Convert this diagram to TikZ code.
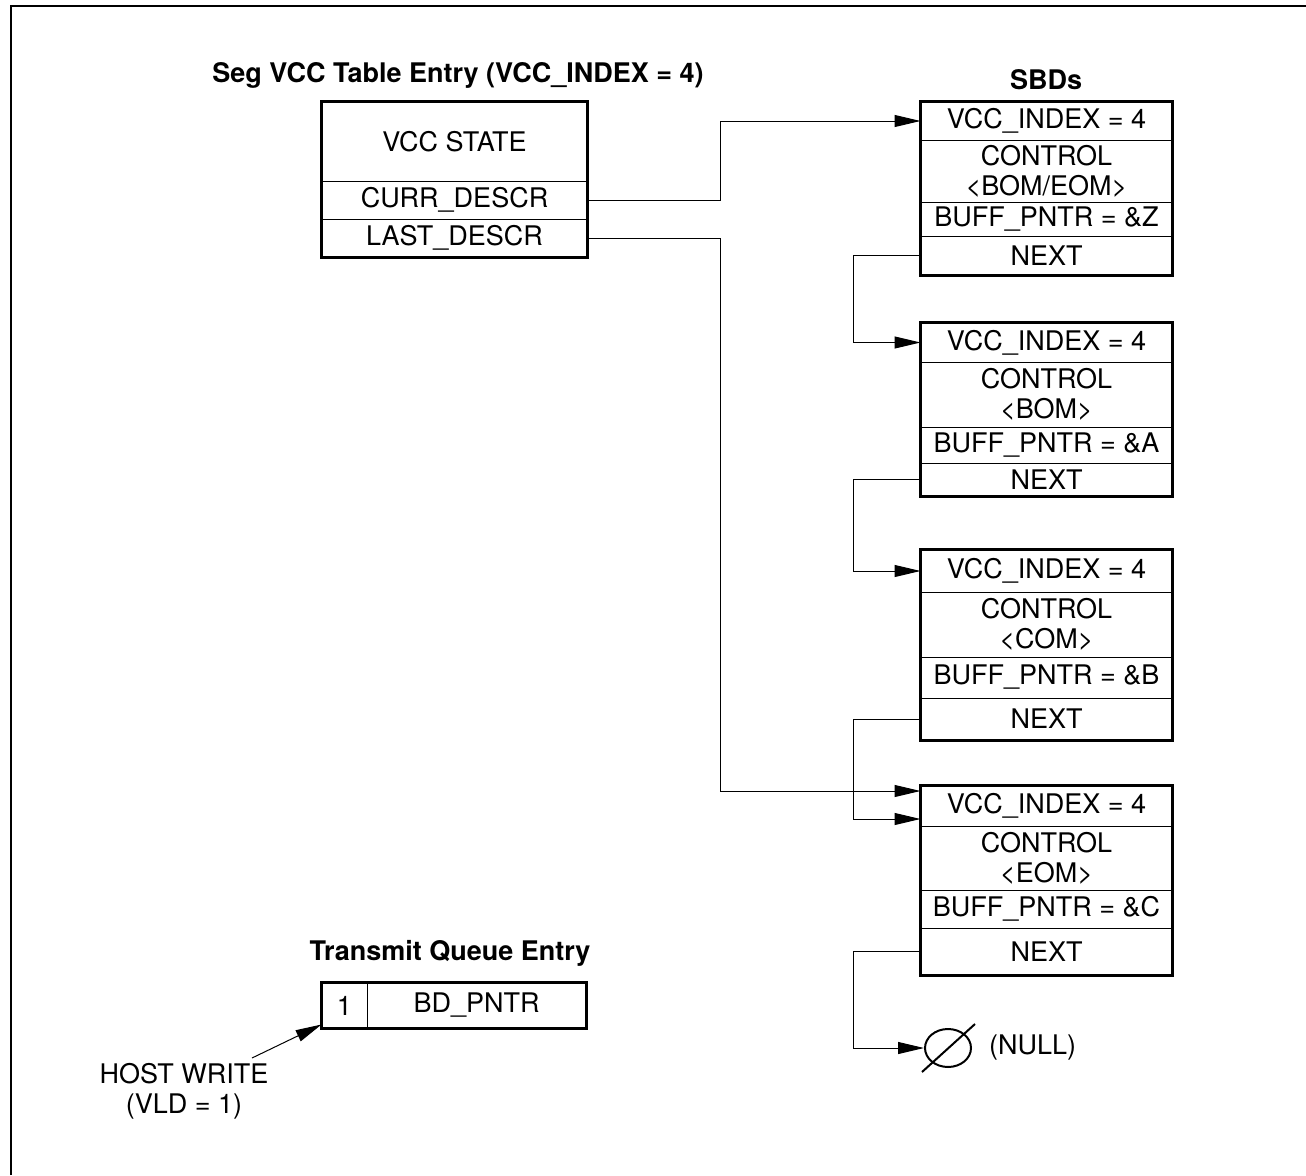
\documentclass[tikz,border=0pt]{standalone}
\usepackage{fontspec}
\setmainfont{TeX Gyre Heros}
\usetikzlibrary{arrows.meta,shapes.geometric,positioning}
\newcommand\figfont{\fontsize{27}{30}\selectfont}

\begin{document}
\begin{tikzpicture}[
  x=1pt, y=-1pt,
  fieldbox/.style={draw, line width=1pt, inner sep=0pt, align=center, font=\figfont},
  sbdfield/.style={fieldbox, minimum width=251pt},
  segfield/.style={fieldbox, minimum width=265pt},
  heading/.style={inner sep=0pt, font=\figfont\bfseries},
  txt/.style={inner sep=0pt, align=center, font=\figfont},
  boxedge/.style={line width=2.4pt},
  link/.style={line width=1pt},
  >={Triangle[length=26pt,width=12pt]},
  ]
  \useasboundingbox (0,0) rectangle (1306,1175);
  % Frame
  \draw[line width=1.5pt] (11,1175) -- (11,6) -- (1306,6);

  % Seg VCC table entry
  \node[heading] (segtitle) at (458,75) {Seg VCC Table Entry (VCC\_INDEX = 4)};
  \node[segfield, minimum height=79pt] (state) at (454.5,141.5) {VCC STATE};
  \node[segfield, minimum height=38pt] (curr)  at (454.5,200) {CURR\_DESCR};
  \node[segfield, minimum height=38pt] (last)  at (454.5,238) {LAST\_DESCR};
  \draw[boxedge] (state.north west) rectangle (last.south east);

  % SBDs
  \node[heading] (sbdtitle) at (1046,80) {SBDs};
  % SBD 1
  \node[sbdfield, minimum height=38pt] (idxA) at (1046.5,121)   {VCC\_INDEX = 4};
  \node[sbdfield, minimum height=62pt] (ctlA) at (1046.5,171)   {CONTROL\\<BOM/EOM>};
  \node[sbdfield, minimum height=34pt] (bufA) at (1046.5,219)   {BUFF\_PNTR = \&Z};
  \node[sbdfield, minimum height=39pt] (nxtA) at (1046.5,255.5) {NEXT};
  \draw[boxedge] (idxA.north west) rectangle (nxtA.south east);
  % SBD 2
  \node[sbdfield, minimum height=39pt] (idxB) at (1046.5,342.5) {VCC\_INDEX = 4};
  \node[sbdfield, minimum height=65pt] (ctlB) at (1046.5,394.5) {CONTROL\\<BOM>};
  \node[sbdfield, minimum height=36pt] (bufB) at (1046.5,445)   {BUFF\_PNTR = \&A};
  \node[sbdfield, minimum height=33pt] (nxtB) at (1046.5,479.5) {NEXT};
  \draw[boxedge] (idxB.north west) rectangle (nxtB.south east);
  % SBD 3
  \node[sbdfield, minimum height=42pt] (idxC) at (1046.5,571)   {VCC\_INDEX = 4};
  \node[sbdfield, minimum height=65pt] (ctlC) at (1046.5,624.5) {CONTROL\\<COM>};
  \node[sbdfield, minimum height=41pt] (bufC) at (1046.5,677.5) {BUFF\_PNTR = \&B};
  \node[sbdfield, minimum height=42pt] (nxtC) at (1046.5,719)   {NEXT};
  \draw[boxedge] (idxC.north west) rectangle (nxtC.south east);
  % SBD 4
  \node[sbdfield, minimum height=40pt] (idxD) at (1046.5,806)   {VCC\_INDEX = 4};
  \node[sbdfield, minimum height=64pt] (ctlD) at (1046.5,858)   {CONTROL\\<EOM>};
  \node[sbdfield, minimum height=38pt] (bufD) at (1046.5,909)   {BUFF\_PNTR = \&C};
  \node[sbdfield, minimum height=47pt] (nxtD) at (1046.5,951.5) {NEXT};
  \draw[boxedge] (idxD.north west) rectangle (nxtD.south east);

  % Null pointer
  \node[draw, ellipse, line width=2pt, minimum width=46pt, minimum height=38pt,
        inner sep=0pt] (null) at (948,1048) {};
  \draw[line width=2pt] ([shift={(-26,24)}]null.center) -- ([shift={(27,-24)}]null.center);
  \node[txt, right=17pt of null] (nulltext) {(NULL)};

  % Transmit queue entry
  \node[heading] (tqtitle) at (450,953) {Transmit Queue Entry};
  \node[fieldbox, minimum width=45pt, minimum height=45pt]  (vld)   at (344.5,1005.5) {1};
  \node[fieldbox, minimum width=219pt, minimum height=45pt] (bdptr) at (476.5,1005.5) {BD\_PNTR};
  \draw[boxedge] (vld.north west) rectangle (bdptr.south east);
  \node[txt] (host) at (184,1091) {HOST WRITE\\(VLD = 1)};
  \coordinate (hostend) at (252,1058);

  % Pointers
  \draw[link,->] (curr.east) -- ++(133,0) |- (idxA.west);
  \draw[link,->] (last.east) -- ++(133,0) |- ([yshift=15pt]idxD.west);
  \draw[link,->] (nxtA.west) -- ++(-67,0) |- (idxB.west);
  \draw[link,->] (nxtB.west) -- ++(-67,0) |- (idxC.west);
  \draw[link,->] (nxtC.west) -- ++(-67,0) |- ([yshift=-13pt]idxD.west);
  \draw[link,->] (nxtD.west) -- ++(-67,0) |- (null.west);
  \draw[link,->] (hostend) -- ([yshift=4pt]vld.south west);
\end{tikzpicture}
\end{document}
